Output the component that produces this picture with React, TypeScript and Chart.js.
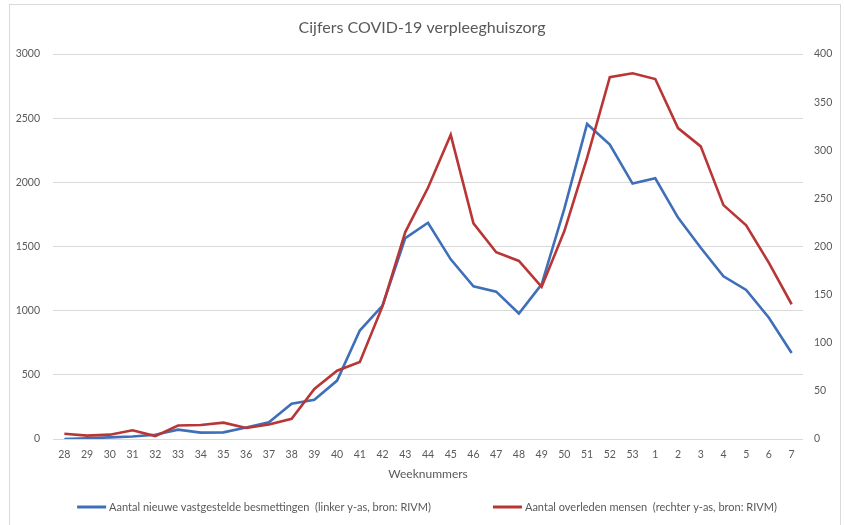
import React, { useEffect, useRef } from 'react';
import { Chart, registerables } from 'chart.js';

Chart.register(...registerables);

const weeks = ['28', '29', '30', '31', '32', '33', '34', '35', '36', '37', '38', '39', '40', '41', '42', '43', '44', '45', '46', '47', '48', '49', '50', '51', '52', '53', '1', '2', '3', '4', '5', '6', '7'];

const infections = [0, 5, 13, 20, 33, 73, 50, 52, 90, 130, 275, 305, 455, 845, 1040, 1565, 1685, 1400, 1190, 1148, 978, 1205, 1795, 2455, 2295, 1990, 2032, 1725, 1490, 1268, 1162, 945, 670];

const deaths = [5.5, 3.5, 4.5, 9, 3, 14, 14.5, 17, 11.5, 15, 21, 52, 71, 80, 138, 215, 261, 316, 224, 194, 185, 158, 216, 292, 376, 380, 374, 323, 304, 243, 222, 183, 140];

const infectionsLabel = 'Aantal nieuwe vastgestelde besmettingen  (linker y-as, bron: RIVM)';
const deathsLabel = 'Aantal overleden mensen  (rechter y-as, bron: RIVM)';
const chartTitle = 'Cijfers COVID-19 verpleeghuiszorg';
const xTitle = 'Weeknummers';

const FONT = 'Lato, "Liberation Sans", sans-serif';
const TEXT = '#595959';
const BLUE = '#3F6FB8';
const RED = '#B93636';

const frameAndLegend = {
  id: 'frameAndLegend',
  beforeDraw(chart: any) {
    const { ctx, width, height } = chart;
    ctx.save();
    ctx.fillStyle = '#ffffff';
    ctx.fillRect(0, 0, width, height);
    ctx.strokeStyle = '#d9d9d9';
    ctx.lineWidth = 1;
    ctx.strokeRect(9.5, 4.5, 831, 540);
    ctx.restore();
  },
  afterDraw(chart: any) {
    const { ctx, chartArea } = chart;
    const ds = chart.data.datasets;
    ctx.save();
    ctx.font = `11px ${FONT}`;
    ctx.textBaseline = 'middle';
    ctx.textAlign = 'left';
    const sw = 29;
    const g1 = 3;
    const g2 = 62;
    const widths = ds.map((d: any) => ctx.measureText(d.label).width);
    const total = ds.reduce((acc: number, _d: any, i: number) => acc + sw + g1 + widths[i], 0) + g2 * (ds.length - 1);
    let x = (chartArea.left + chartArea.right) / 2 - total / 2 - 1;
    const y = 507;
    ds.forEach((d: any, i: number) => {
      ctx.strokeStyle = d.borderColor;
      ctx.lineWidth = 3;
      ctx.beginPath();
      ctx.moveTo(x, y);
      ctx.lineTo(x + sw, y);
      ctx.stroke();
      ctx.fillStyle = TEXT;
      ctx.fillText(d.label, x + sw + g1, y + 0.5);
      x += sw + g1 + widths[i] + g2;
    });
    ctx.restore();
  },
};

export default function App() {
  const ref = useRef<HTMLCanvasElement | null>(null);

  useEffect(() => {
    if (!ref.current) return;
    const chart = new Chart(ref.current, {
      type: 'line',
      data: {
        labels: weeks,
        datasets: [
          {
            label: infectionsLabel,
            data: infections,
            yAxisID: 'y',
            borderColor: BLUE,
            backgroundColor: BLUE,
            borderWidth: 2.6,
            pointRadius: 0,
            tension: 0,
            order: 1,
          },
          {
            label: deathsLabel,
            data: deaths,
            yAxisID: 'y1',
            borderColor: RED,
            backgroundColor: RED,
            borderWidth: 2.6,
            pointRadius: 0,
            tension: 0,
            order: 0,
          },
        ],
      },
      options: {
        responsive: false,
        animation: false,
        layout: { padding: 0 },
        plugins: {
          legend: { display: false },
          tooltip: { enabled: false },
          title: {
            display: true,
            text: chartTitle,
            color: TEXT,
            font: { family: FONT, size: 16, weight: 'normal' },
            padding: { top: 18, bottom: 16.8 },
          },
        },
        scales: {
          x: {
            type: 'category',
            offset: true,
            grid: { display: false, drawTicks: false },
            border: { display: false },
            ticks: { color: TEXT, font: { family: FONT, size: 10.5 }, padding: 9, maxRotation: 0, autoSkip: false },
            title: {
              display: true,
              text: xTitle,
              color: TEXT,
              font: { family: FONT, size: 12 },
              padding: { top: 4, bottom: 44 },
            },
            afterFit(scale: any) {
              scale.height = 86;
            },
          },
          y: {
            position: 'left',
            min: 0,
            max: 3000,
            grid: { color: '#d9d9d9', lineWidth: 1, drawTicks: false },
            border: { display: false },
            ticks: {
              stepSize: 500,
              color: TEXT,
              font: { family: FONT, size: 10.5 },
              padding: 13,
              callback: (v: any) => String(v),
            },
            afterFit(scale: any) {
              scale.width = 53;
            },
          },
          y1: {
            position: 'right',
            min: 0,
            max: 400,
            grid: { display: false, drawTicks: false },
            border: { display: false },
            ticks: {
              stepSize: 50,
              color: TEXT,
              font: { family: FONT, size: 10.5 },
              padding: 11,
              callback: (v: any) => String(v),
            },
            afterFit(scale: any) {
              scale.width = 41;
            },
          },
        },
      },
      plugins: [frameAndLegend],
    });
    return () => chart.destroy();
  }, []);

  return (
    <div style={{ position: 'absolute', left: 0, top: 0, width: 844, height: 525, background: '#fff' }}>
      <canvas ref={ref} width={844} height={525} style={{ display: 'block', width: 844, height: 525 }} />
    </div>
  );
}
